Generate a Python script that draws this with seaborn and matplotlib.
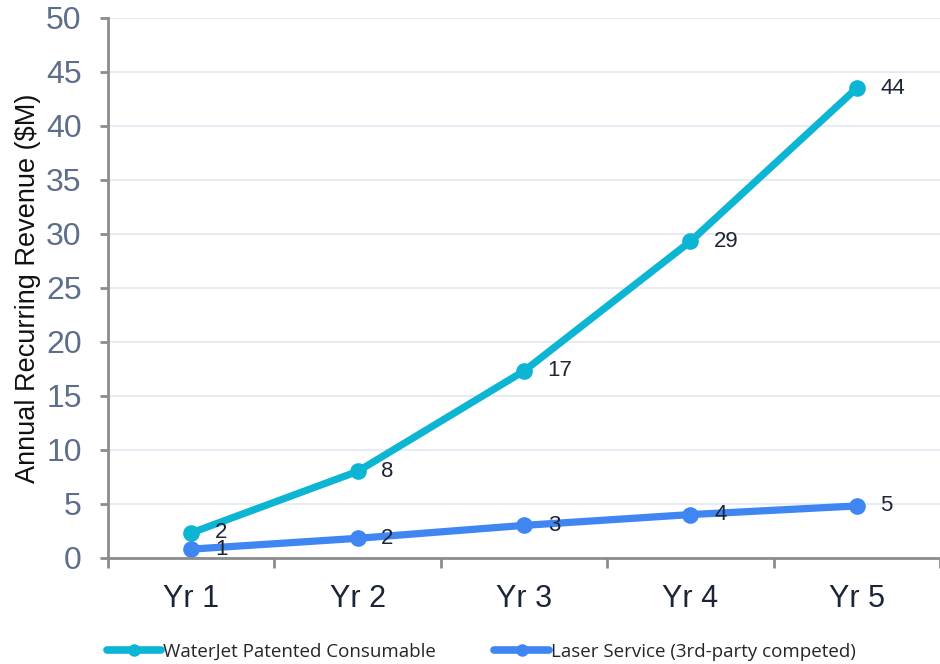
import matplotlib
matplotlib.use("Agg")
import matplotlib.pyplot as plt
import seaborn as sns
import pandas as pd

years = ["Yr 1", "Yr 2", "Yr 3", "Yr 4", "Yr 5"]
waterjet = [2.3, 8.0, 17.3, 29.3, 43.5]
laser = [0.8, 1.8, 3.0, 4.0, 4.8]
series_names = ["WaterJet Patented Consumable", "Laser Service (3rd-party competed)"]
colors = ["#0bb5d3", "#3f86f2"]

df = pd.DataFrame({
    "Year": years * 2,
    "Revenue": waterjet + laser,
    "Series": [series_names[0]] * len(years) + [series_names[1]] * len(years),
})

sns.set_theme(style="white")
plt.rcParams["font.family"] = ["Liberation Sans", "DejaVu Sans"]

fig = plt.figure(figsize=(9.4, 6.64), dpi=100)
ax = fig.add_axes([0.115, 0.160, 0.885, 0.813])

sns.lineplot(
    data=df, x="Year", y="Revenue", hue="Series", palette=colors,
    marker="o", markersize=12, markeredgewidth=0, linewidth=5.2,
    sort=False, ax=ax, legend=True,
)

# value labels to the right of each point
for vals in (waterjet, laser):
    for i, v in enumerate(vals):
        ax.annotate(f"{v:.0f}", (i, v), xytext=(17, 0), textcoords="offset points",
                    ha="left", va="center", fontsize=16, color="#1e2433")

ax.set_xlim(-0.5, 4.5)
ax.set_ylim(0, 50)
ax.set_yticks(range(0, 51, 5))
ax.grid(axis="y", color="#e3e9f2", linewidth=1.2)
ax.set_axisbelow(True)

for side in ("top", "right"):
    ax.spines[side].set_visible(False)
for side in ("left", "bottom"):
    ax.spines[side].set_color("#8c8c8c")
    ax.spines[side].set_linewidth(2)

ax.tick_params(axis="y", which="major", length=6, width=2, color="#8c8c8c",
               labelsize=23, labelcolor="#5c6e8a", pad=13, left=True)
ax.set_xticks(range(len(years)))
ax.set_xticklabels(years)
ax.tick_params(axis="x", which="major", length=0, labelsize=22,
               labelcolor="#1c2536", pad=19)
ax.set_xticks([i + 0.5 for i in range(-1, len(years))], minor=True)
ax.tick_params(axis="x", which="minor", length=7, width=2, color="#8c8c8c",
               bottom=True)

ax.set_xlabel("")
ax.set_ylabel("Annual Recurring Revenue ($M)", fontsize=19.5, color="#111111", labelpad=4)

handles, labels = ax.get_legend_handles_labels()
ax.get_legend().remove()
leg = fig.legend(handles, labels, loc="center", bbox_to_anchor=(0.512, 0.018),
                 ncol=2, frameon=False, handlelength=2.9,
                 columnspacing=3.1, handletextpad=0.1,
                 prop={"family": ["Open Sans", "DejaVu Sans"], "size": 13.5})
for line in leg.get_lines():
    line.set_linewidth(5.5)
    line.set_markersize(9)

fig.savefig("out.png", dpi=100)
